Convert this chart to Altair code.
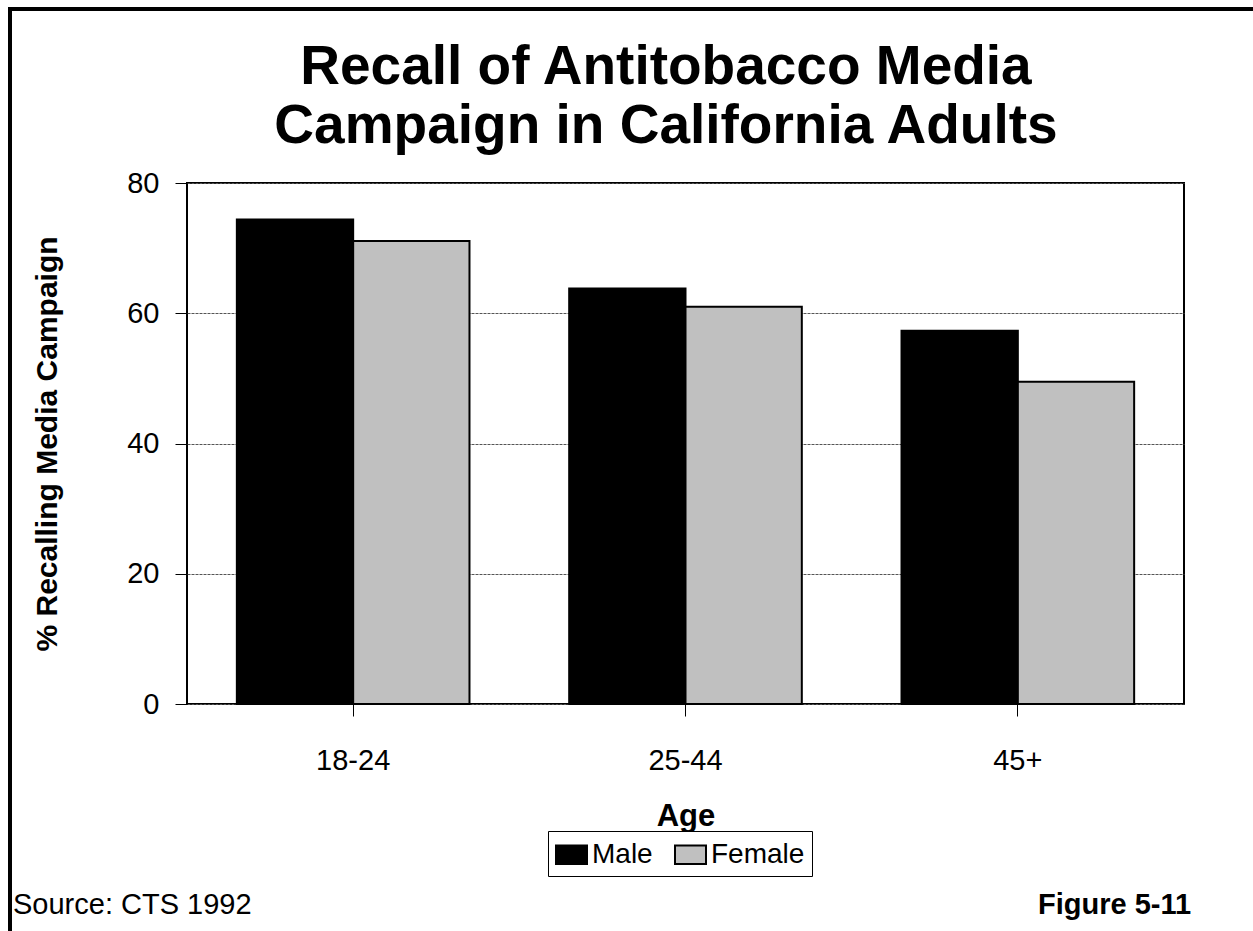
import altair as alt
import pandas as pd

ages = ["18-24", "25-44", "45+"]
male = [74.4, 63.8, 57.3]
female = [71.1, 61.0, 49.5]
sexes = ["Male", "Female"]
title_lines = ["Recall of Antitobacco Media", "Campaign in California Adults"]

rows = []
for a, m, f in zip(ages, male, female):
    rows.append({"Age": a, "Sex": "Male", "Pct": m})
    rows.append({"Age": a, "Sex": "Female", "Pct": f})
df = pd.DataFrame(rows)

FONT = "Liberation Sans"
W, H = 997, 521
PL, PT = 187, 183

bars = alt.Chart(df).mark_bar(stroke="black", strokeWidth=2).encode(
    x=alt.X("Age:N", sort=ages,
            scale=alt.Scale(paddingInner=0.3, paddingOuter=0.15),
            axis=alt.Axis(title="Age", labelAngle=0, labelFontSize=29, labelFont=FONT,
                          labelColor="black", tickSize=12, tickColor="black", tickWidth=1,
                          labelPadding=30, domain=False, titleFont=FONT, titleFontSize=31,
                          titleFontWeight="bold", titleColor="black", titlePadding=26)),
    xOffset=alt.XOffset("Sex:N", sort=sexes),
    y=alt.Y("Pct:Q", scale=alt.Scale(domain=[0, 80]),
            axis=alt.Axis(title="% Recalling Media Campaign", values=[0, 20, 40, 60, 80],
                          labelFontSize=29, labelFont=FONT, labelColor="black",
                          tickSize=12, tickColor="black", tickWidth=1, labelPadding=16,
                          domain=False, grid=True, gridColor="#555555", gridDash=[3, 1],
                          gridWidth=1, titleFont=FONT, titleFontSize=30,
                          titleFontWeight="bold", titleColor="black", titlePadding=64)),
    color=alt.Color("Sex:N", sort=sexes,
                    scale=alt.Scale(domain=sexes, range=["#000000", "#c0c0c0"]),
                    legend=alt.Legend(title=None, orient="none", legendX=361, legendY=648,
                                      direction="horizontal", fillColor="white",
                                      strokeColor="black", padding=7,
                                      labelFont=FONT, labelFontSize=28, labelColor="black",
                                      symbolType="M-1,-0.6H1V0.6H-1Z", symbolSize=961,
                                      symbolStrokeColor="black", symbolStrokeWidth=2,
                                      labelOffset=4, columnPadding=18)),
)


def text_layer(txt, x, y, size, weight="normal", align="left"):
    return alt.Chart(pd.DataFrame({"t": [txt]})).mark_text(
        font=FONT, fontSize=size, fontWeight=weight, align=align,
        baseline="alphabetic", color="black"
    ).encode(text="t:N", x=alt.value(x), y=alt.value(y))


title1 = text_layer(title_lines[0], 666 - PL, 84 - PT, 55, "bold", "center")
title2 = text_layer(title_lines[1], 666 - PL, 143 - PT, 55, "bold", "center")
source = text_layer("Source: CTS 1992", 13 - PL, 914 - PT, 29)
figure = text_layer("Figure 5-11", 1038 - PL, 914 - PT, 29, "bold")

border = alt.Chart(pd.DataFrame({"a": [0]})).mark_rect(
    fill=None, stroke="black", strokeWidth=4
).encode(x=alt.value(10 - PL), x2=alt.value(1300 - PL), y=alt.value(9 - PT), y2=alt.value(1000 - PT))

chart = alt.layer(bars, title1, title2, source, figure, border).properties(
    width=W, height=H,
    autosize=alt.AutoSizeParams(type="none"),
    padding={"left": PL, "top": PT, "right": 1253 - PL - W, "bottom": 931 - PT - H},
    background="white",
).configure_view(stroke="black", strokeWidth=2)

chart.save("out.html", embed_options={"renderer": "svg", "actions": False})
